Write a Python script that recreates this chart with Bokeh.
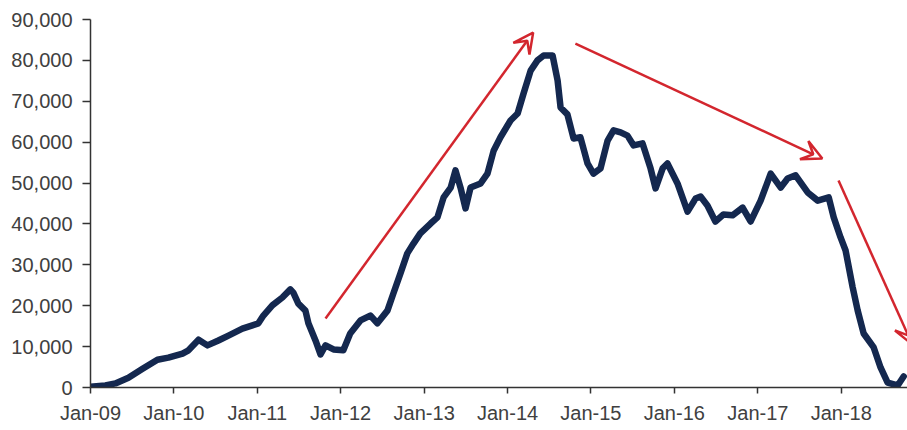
import pandas as pd
from datetime import datetime
from bokeh.plotting import figure
from bokeh.models import (ColumnDataSource, Range1d, FixedTicker, NumeralTickFormatter,
                          DatetimeTickFormatter, Arrow, VeeHead)
from bokeh.embed import file_html
from bokeh.resources import INLINE

# ---- data ----
dates = [
    "2009-01-01", "2009-03-07", "2009-04-20", "2009-06-16", "2009-08-17", "2009-10-21", "2009-12-08",
    "2010-02-08", "2010-03-06", "2010-04-19", "2010-05-28", "2010-07-15", "2010-08-28", "2010-10-28",
    "2010-12-11", "2011-01-06", "2011-01-28", "2011-03-08", "2011-04-21", "2011-05-26", "2011-06-08",
    "2011-06-30", "2011-07-31", "2011-08-13", "2011-09-13", "2011-10-05", "2011-10-27", "2011-12-01",
    "2012-01-13", "2012-02-12", "2012-03-28", "2012-05-10", "2012-06-10", "2012-07-24", "2012-08-19",
    "2012-09-19", "2012-10-19", "2012-11-15", "2012-12-15", "2013-01-29", "2013-02-28", "2013-03-27",
    "2013-04-27", "2013-05-18", "2013-06-09", "2013-07-01", "2013-07-23", "2013-09-05", "2013-10-05",
    "2013-11-01", "2013-12-01", "2014-01-14", "2014-02-14", "2014-03-12", "2014-04-12", "2014-05-12",
    "2014-06-08", "2014-07-17", "2014-08-08", "2014-08-21", "2014-09-20", "2014-10-17", "2014-11-16",
    "2014-12-17", "2015-01-12", "2015-02-12", "2015-03-15", "2015-04-10", "2015-05-11", "2015-06-10",
    "2015-07-07", "2015-08-15", "2015-09-19", "2015-10-11", "2015-11-11", "2015-12-02", "2016-01-15",
    "2016-02-28", "2016-04-03", "2016-04-25", "2016-05-25", "2016-06-29", "2016-08-03", "2016-09-12",
    "2016-10-26", "2016-11-30", "2017-01-13", "2017-02-26", "2017-04-11", "2017-05-11", "2017-06-15",
    "2017-08-07", "2017-09-20", "2017-11-07", "2017-11-29", "2017-12-29", "2018-01-20", "2018-02-20",
    "2018-03-14", "2018-04-09", "2018-05-23", "2018-06-22", "2018-07-23", "2018-09-05", "2018-10-01",
]
values = [
    200, 500, 1000, 2400, 4600, 6800, 7300,
    8300, 9100, 11700, 10300, 11500, 12700, 14400,
    15200, 15700, 17600, 20100, 22000, 24000, 23200,
    20500, 18800, 15700, 11500, 8100, 10300, 9300,
    9100, 13200, 16400, 17600, 15700, 18800, 23000,
    27900, 32800, 35200, 37700, 40100, 41600, 46500,
    48900, 53100, 48900, 43800, 48900, 49900, 52300,
    57900, 61200, 65300, 67000, 71900, 77500, 80000,
    81200, 81200, 75100, 68500, 66800, 60900, 61200,
    54800, 52300, 53600, 60400, 62900, 62400, 61600,
    59200, 59700, 53600, 48700, 53600, 54800, 49900,
    43000, 46200, 46700, 44500, 40600, 42300, 42100,
    44000, 40600, 45700, 52300, 48900, 51100, 51900,
    47700, 45700, 46500, 41600, 36700, 33500, 24500,
    18800, 13200, 9800, 4900, 1200, 500, 2700,
]

y_ticks = [0, 10000, 20000, 30000, 40000, 50000, 60000, 70000, 80000, 90000]
x_tick_years = [2009, 2010, 2011, 2012, 2013, 2014, 2015, 2016, 2017, 2018]

# trend arrows (annotations)
arrow_start_dates = ["2011-10-27", "2014-10-25", "2017-12-20"]
arrow_start_values = [16900, 84100, 50600]
arrow_end_dates = ["2014-04-23", "2017-10-10", "2018-11-08"]
arrow_end_values = [86800, 56000, 10500]

LINE_COLOR = "#14284f"
ARROW_COLOR = "#d3262e"
TEXT_COLOR = "#404040"
AXIS_COLOR = "#333333"
FONT = "Liberation Sans"

src = ColumnDataSource(data=dict(x=pd.to_datetime(dates), y=values))

p = figure(
    x_axis_type="datetime",
    frame_width=817, frame_height=368,
    min_border_left=90, min_border_right=0, min_border_top=19, min_border_bottom=40,
    x_range=Range1d(start=datetime(2009, 1, 1), end=datetime(2018, 10, 18)),
    y_range=Range1d(start=0, end=90000),
    output_backend="svg", toolbar_location=None,
)
p.outline_line_color = None
p.xgrid.visible = False
p.ygrid.visible = False
p.background_fill_color = "white"
p.border_fill_color = "white"

p.line("x", "y", source=src, line_color=LINE_COLOR, line_width=6.5,
       line_join="round", line_cap="round")

arrow_src = ColumnDataSource(data=dict(
    xs=pd.to_datetime(arrow_start_dates), ys=arrow_start_values,
    xe=pd.to_datetime(arrow_end_dates), ye=arrow_end_values,
))
p.add_layout(Arrow(
    end=VeeHead(size=20, line_color=ARROW_COLOR, line_width=2.5, fill_color=None),
    x_start="xs", y_start="ys", x_end="xe", y_end="ye", source=arrow_src,
    line_color=ARROW_COLOR, line_width=2.5,
))

# y axis
yax = p.yaxis[0]
yax.ticker = FixedTicker(ticks=y_ticks)
yax.formatter = NumeralTickFormatter(format="0,0")
yax.minor_tick_line_color = None
yax.major_tick_out = 8
yax.major_tick_in = 0
yax.major_label_standoff = 10

# x axis
xax = p.xaxis[0]
xax.ticker = FixedTicker(ticks=[pd.Timestamp(f"{yr}-01-01").value / 1e6 for yr in x_tick_years])
fmt = "%b-%y"
xax.formatter = DatetimeTickFormatter(years=fmt, months=fmt, days=fmt, hours=fmt,
                                      minutes=fmt, seconds=fmt, milliseconds=fmt,
                                      microseconds=fmt, hourmin=fmt, minsec=fmt)
xax.minor_tick_line_color = None
xax.major_tick_out = 6
xax.major_tick_in = 0
xax.major_label_standoff = 8

for ax in (xax, yax):
    ax.axis_line_color = AXIS_COLOR
    ax.axis_line_width = 1.5
    ax.major_tick_line_color = AXIS_COLOR
    ax.major_tick_line_width = 1.5
    ax.major_label_text_font = FONT
    ax.major_label_text_font_size = "20px"
    ax.major_label_text_color = TEXT_COLOR

open("out.html", "w").write(file_html(p, INLINE))
